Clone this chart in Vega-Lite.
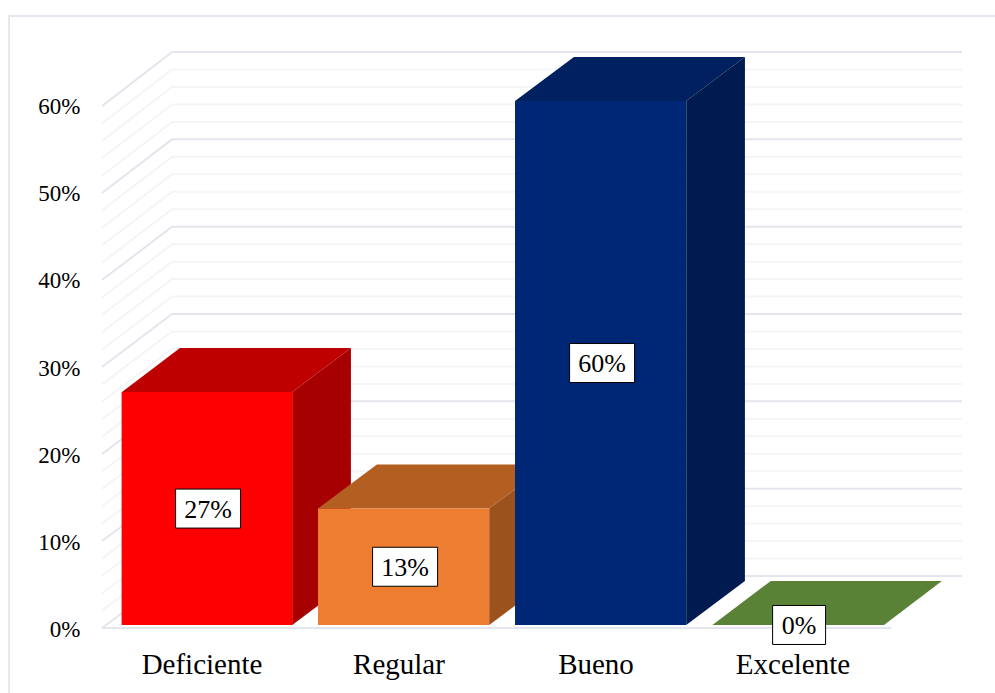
{"$schema":"https://vega.github.io/schema/vega-lite/v6.json","width":995,"height":693,"padding":0,"autosize":"none","background":"white","config":{"view":{"stroke":null}},
"datasets":{
"walls":[
{"level":-1,"part":"frame","x":-1.0076,"y":-7.78},{"level":-1,"part":"frame","x":-1.0076,"y":69.73},{"level":-1,"part":"frame","x":3.9974,"y":69.73},
{"level":-2,"part":"major","x":-0.5355,"y":-0.34},{"level":-2,"part":"major","x":3.471,"y":-0.34},
{"level":0,"part":"major","x":-0.5355,"y":-0.34},{"level":0,"part":"major","x":-0.1802,"y":5.61},{"level":0,"part":"major","x":3.83,"y":5.61},
{"level":2,"part":"minor","x":-0.5355,"y":1.65},{"level":2,"part":"minor","x":-0.1802,"y":7.61},{"level":2,"part":"minor","x":3.83,"y":7.61},
{"level":4,"part":"minor","x":-0.5355,"y":3.64},{"level":4,"part":"minor","x":-0.1802,"y":9.61},{"level":4,"part":"minor","x":3.83,"y":9.61},
{"level":6,"part":"minor","x":-0.5355,"y":5.64},{"level":6,"part":"minor","x":-0.1802,"y":11.61},{"level":6,"part":"minor","x":3.83,"y":11.61},
{"level":8,"part":"minor","x":-0.5355,"y":7.63},{"level":8,"part":"minor","x":-0.1802,"y":13.61},{"level":8,"part":"minor","x":3.83,"y":13.61},
{"level":10,"part":"major","x":-0.5355,"y":9.62},{"level":10,"part":"major","x":-0.1802,"y":15.61},{"level":10,"part":"major","x":3.83,"y":15.61},
{"level":12,"part":"minor","x":-0.5355,"y":11.61},{"level":12,"part":"minor","x":-0.1802,"y":17.61},{"level":12,"part":"minor","x":3.83,"y":17.61},
{"level":14,"part":"minor","x":-0.5355,"y":13.6},{"level":14,"part":"minor","x":-0.1802,"y":19.61},{"level":14,"part":"minor","x":3.83,"y":19.61},
{"level":16,"part":"minor","x":-0.5355,"y":15.6},{"level":16,"part":"minor","x":-0.1802,"y":21.61},{"level":16,"part":"minor","x":3.83,"y":21.61},
{"level":18,"part":"minor","x":-0.5355,"y":17.59},{"level":18,"part":"minor","x":-0.1802,"y":23.61},{"level":18,"part":"minor","x":3.83,"y":23.61},
{"level":20,"part":"major","x":-0.5355,"y":19.58},{"level":20,"part":"major","x":-0.1802,"y":25.61},{"level":20,"part":"major","x":3.83,"y":25.61},
{"level":22,"part":"minor","x":-0.5355,"y":21.57},{"level":22,"part":"minor","x":-0.1802,"y":27.61},{"level":22,"part":"minor","x":3.83,"y":27.61},
{"level":24,"part":"minor","x":-0.5355,"y":23.56},{"level":24,"part":"minor","x":-0.1802,"y":29.61},{"level":24,"part":"minor","x":3.83,"y":29.61},
{"level":26,"part":"minor","x":-0.5355,"y":25.56},{"level":26,"part":"minor","x":-0.1802,"y":31.61},{"level":26,"part":"minor","x":3.83,"y":31.61},
{"level":28,"part":"minor","x":-0.5355,"y":27.55},{"level":28,"part":"minor","x":-0.1802,"y":33.61},{"level":28,"part":"minor","x":3.83,"y":33.61},
{"level":30,"part":"major","x":-0.5355,"y":29.54},{"level":30,"part":"major","x":-0.1802,"y":35.61},{"level":30,"part":"major","x":3.83,"y":35.61},
{"level":32,"part":"minor","x":-0.5355,"y":31.53},{"level":32,"part":"minor","x":-0.1802,"y":37.61},{"level":32,"part":"minor","x":3.83,"y":37.61},
{"level":34,"part":"minor","x":-0.5355,"y":33.52},{"level":34,"part":"minor","x":-0.1802,"y":39.61},{"level":34,"part":"minor","x":3.83,"y":39.61},
{"level":36,"part":"minor","x":-0.5355,"y":35.52},{"level":36,"part":"minor","x":-0.1802,"y":41.61},{"level":36,"part":"minor","x":3.83,"y":41.61},
{"level":38,"part":"minor","x":-0.5355,"y":37.51},{"level":38,"part":"minor","x":-0.1802,"y":43.61},{"level":38,"part":"minor","x":3.83,"y":43.61},
{"level":40,"part":"major","x":-0.5355,"y":39.5},{"level":40,"part":"major","x":-0.1802,"y":45.61},{"level":40,"part":"major","x":3.83,"y":45.61},
{"level":42,"part":"minor","x":-0.5355,"y":41.49},{"level":42,"part":"minor","x":-0.1802,"y":47.61},{"level":42,"part":"minor","x":3.83,"y":47.61},
{"level":44,"part":"minor","x":-0.5355,"y":43.48},{"level":44,"part":"minor","x":-0.1802,"y":49.61},{"level":44,"part":"minor","x":3.83,"y":49.61},
{"level":46,"part":"minor","x":-0.5355,"y":45.48},{"level":46,"part":"minor","x":-0.1802,"y":51.61},{"level":46,"part":"minor","x":3.83,"y":51.61},
{"level":48,"part":"minor","x":-0.5355,"y":47.47},{"level":48,"part":"minor","x":-0.1802,"y":53.61},{"level":48,"part":"minor","x":3.83,"y":53.61},
{"level":50,"part":"major","x":-0.5355,"y":49.46},{"level":50,"part":"major","x":-0.1802,"y":55.61},{"level":50,"part":"major","x":3.83,"y":55.61},
{"level":52,"part":"minor","x":-0.5355,"y":51.45},{"level":52,"part":"minor","x":-0.1802,"y":57.61},{"level":52,"part":"minor","x":3.83,"y":57.61},
{"level":54,"part":"minor","x":-0.5355,"y":53.44},{"level":54,"part":"minor","x":-0.1802,"y":59.61},{"level":54,"part":"minor","x":3.83,"y":59.61},
{"level":56,"part":"minor","x":-0.5355,"y":55.44},{"level":56,"part":"minor","x":-0.1802,"y":61.61},{"level":56,"part":"minor","x":3.83,"y":61.61},
{"level":58,"part":"minor","x":-0.5355,"y":57.43},{"level":58,"part":"minor","x":-0.1802,"y":63.61},{"level":58,"part":"minor","x":3.83,"y":63.61},
{"level":60,"part":"major","x":-0.5355,"y":59.42},{"level":60,"part":"major","x":-0.1802,"y":65.61},{"level":60,"part":"major","x":3.83,"y":65.61}
],
"sides":[
{"part":"Deficiente side","x":0.43,"y":26.67,"y2":0},{"part":"Deficiente side","x":0.728,"y":31.72,"y2":5.05},
{"part":"Regular side","x":1.43,"y":13.33,"y2":0},{"part":"Regular side","x":1.728,"y":18.38,"y2":5.05},
{"part":"Bueno side","x":2.43,"y":60,"y2":0},{"part":"Bueno side","x":2.728,"y":65.05,"y2":5.05}
],
"tops":[
{"part":"Deficiente top","x":-0.434,"y":26.67,"y2":26.67},{"part":"Deficiente top","x":-0.14,"y":31.72,"y2":26.67},{"part":"Deficiente top","x":0.43,"y":31.72,"y2":26.67},{"part":"Deficiente top","x":0.728,"y":31.72,"y2":31.72},
{"part":"Regular top","x":0.561,"y":13.33,"y2":13.33},{"part":"Regular top","x":0.86,"y":18.38,"y2":13.33},{"part":"Regular top","x":1.43,"y":18.38,"y2":13.33},{"part":"Regular top","x":1.728,"y":18.38,"y2":18.38},
{"part":"Bueno top","x":1.561,"y":60,"y2":60},{"part":"Bueno top","x":1.86,"y":65.05,"y2":60},{"part":"Bueno top","x":2.43,"y":65.05,"y2":60},{"part":"Bueno top","x":2.728,"y":65.05,"y2":65.05},
{"part":"Excelente top","x":2.563,"y":0,"y2":0},{"part":"Excelente top","x":2.86,"y":5.05,"y2":0},{"part":"Excelente top","x":3.434,"y":5.05,"y2":0},{"part":"Excelente top","x":3.728,"y":5.05,"y2":5.05}
],
"bars":[
{"part":"Deficiente","x":-0.002,"y":26.67},
{"part":"Regular","x":0.995,"y":13.33},
{"part":"Bueno","x":1.995,"y":60},
{"part":"Excelente","x":3,"y":0}
],
"labels":[
{"label":"27%","x":0.003,"y":13.33},
{"label":"13%","x":1.003,"y":6.67},
{"label":"60%","x":2.003,"y":30},
{"label":"0%","x":3.003,"y":0}
]
},
"encoding":{
"x":{"field":"x","type":"quantitative","scale":{"domain":[-1.0533,3.99746],"nice":false,"zero":false,"padding":0},"axis":{"title":null,"values":[0,1,2,3],"labelExpr":"['Deficiente','Regular','Bueno','Excelente'][datum.value]","grid":false,"domain":false,"ticks":false,"offset":-29,"labelPadding":0,"labelBaseline":"middle","labelOffset":-6,"labelFont":"Liberation Serif","labelFontSize":29,"labelColor":"black","labelFlush":false,"labelOverlap":false}},
"y":{"field":"y","type":"quantitative","stack":null,"scale":{"domain":[-7.787,71.57],"nice":false,"zero":false,"padding":0},"axis":{"title":null,"values":[0,10,20,30,40,50,60],"labelExpr":"datum.value+'%'","grid":false,"domain":false,"ticks":false,"offset":-80,"labelPadding":0,"labelOffset":5,"labelFont":"Liberation Serif","labelFontSize":23,"labelColor":"black","labelFlush":false,"labelOverlap":false}}
},
"layer":[
{"data":{"name":"walls"},"mark":{"type":"line","strokeWidth":2,"interpolate":"linear"},"encoding":{"detail":{"field":"level","type":"nominal"},"color":{"field":"part","type":"nominal","legend":null,"scale":{"domain":["frame","major","minor","Deficiente","Deficiente side","Deficiente top","Regular","Regular side","Regular top","Bueno","Bueno side","Bueno top","Excelente","Excelente top"],"range":["#e3e7ef","#e3e6ed","#f3f5f7","#ff0000","#a60000","#bf0000","#ed7d31","#9c521d","#b35f22","#002776","#001b50","#00205f","#5a8236","#5a8236"]}}}},
{"data":{"name":"sides"},"mark":{"type":"area","orient":"vertical"},"encoding":{"y2":{"field":"y2"},"color":{"field":"part","type":"nominal","legend":null}}},
{"data":{"name":"tops"},"mark":{"type":"area","orient":"vertical"},"encoding":{"y2":{"field":"y2"},"color":{"field":"part","type":"nominal","legend":null}}},
{"data":{"name":"bars"},"mark":{"type":"bar","orient":"vertical","size":171},"encoding":{"color":{"field":"part","type":"nominal","legend":null}}},
{"data":{"name":"labels"},"mark":{"type":"point","filled":true,"fill":"white","stroke":"black","strokeWidth":1,"opacity":1,"size":4225},"encoding":{"shape":{"field":"label","type":"nominal","legend":null,"scale":{"domain":["27%","13%","60%","0%"],"range":["M-1,-0.6H1V0.6H-1Z","M-1,-0.6H1V0.6H-1Z","M-1,-0.6H1V0.6H-1Z","M-0.815,-0.6H0.815V0.6H-0.815Z"]}}}},
{"data":{"name":"labels"},"mark":{"type":"text","font":"Liberation Serif","fontSize":26,"color":"black","align":"center","baseline":"middle","dy":1},"encoding":{"text":{"field":"label","type":"nominal"}}}
]}
